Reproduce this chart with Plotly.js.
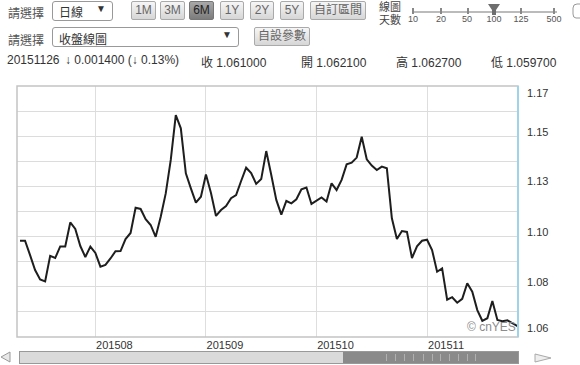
<!DOCTYPE html>
<html><head><meta charset="utf-8">
<script src="https://cdn.plot.ly/plotly-3.0.1.min.js"></script>
<style>
body{margin:0;width:580px;height:365px;overflow:hidden;background:#fff;font-family:"Liberation Sans",Arial,"Noto Sans CJK TC",sans-serif;color:#333;position:relative}
.a{position:absolute;white-space:nowrap}
.lbl{font-size:12px;color:#555}
.sel{border:1px solid #999;border-radius:3px;background:#fff;box-sizing:border-box}
.btn{position:absolute;box-sizing:border-box;border:1px solid #aaa;background:linear-gradient(#f6f6f6,#d6d6d6);color:#666;font-size:12px;text-align:center;border-radius:2px;height:19px;line-height:17px}
.on{background:linear-gradient(#a8a8a8,#7c7c7c);color:#222;border-color:#777}
.info{font-size:12px;color:#333;top:53px}
#chart{position:absolute;left:0;top:75px;width:580px;height:276px}
</style></head><body>
<div class="a lbl" style="left:8px;top:4px">請選擇</div>
<div class="a sel" style="left:52px;top:1px;width:61px;height:20px"></div>
<div class="a" style="left:59px;top:3px;font-size:12px;color:#333">日線</div>
<div class="a" style="left:96px;top:3px;font-size:10px;color:#333">▼</div>
<div class="btn" style="left:131px;top:1px;width:25px">1M</div>
<div class="btn" style="left:160px;top:1px;width:25px">3M</div>
<div class="btn on" style="left:189px;top:1px;width:25px">6M</div>
<div class="btn" style="left:220px;top:1px;width:24px">1Y</div>
<div class="btn" style="left:250px;top:1px;width:24px">2Y</div>
<div class="btn" style="left:280px;top:1px;width:24px">5Y</div>
<div class="btn" style="left:310px;top:1px;width:56px">自訂區間</div>
<div class="a" style="left:379px;top:1px;font-size:11px;line-height:12px;color:#444">線圖</div>
<div class="a" style="left:379px;top:14px;font-size:11px;line-height:12px;color:#444">天數</div>
<svg class="a" style="left:404px;top:0" width="176" height="28">
  <line x1="9" y1="12" x2="153" y2="12" stroke="#bbb" stroke-width="2"/>
  <g stroke="#888" stroke-width="2">
    <line x1="9" y1="8" x2="9" y2="14"/><line x1="37" y1="8" x2="37" y2="14"/>
    <line x1="64" y1="8" x2="64" y2="14"/><line x1="117" y1="8" x2="117" y2="14"/>
    <line x1="150" y1="8" x2="150" y2="14"/>
  </g>
  <path d="M84 4 L96 4 L92 10 L92 15 L88 15 L88 10 Z" fill="#6e6e6e"/>
  <g font-size="9" fill="#555" text-anchor="middle" font-family="Liberation Sans, Arial">
    <text x="9" y="22">10</text><text x="37" y="22">20</text><text x="63" y="22">50</text>
    <text x="90" y="22">100</text><text x="117" y="22">125</text><text x="150" y="22">500</text>
  </g>
  <path d="M169 8 Q169 4 173 4 L178 4 L178 18 L172 18 Q169 18 169 14 Z" fill="none" stroke="#999"/>
</svg>
<div class="a lbl" style="left:8px;top:31px">請選擇</div>
<div class="a sel" style="left:52px;top:27px;width:187px;height:20px"></div>
<div class="a" style="left:59px;top:30px;font-size:12px;color:#333">收盤線圖</div>
<div class="a" style="left:222px;top:29px;font-size:10px;color:#333">▼</div>
<div class="btn" style="left:254px;top:27px;width:56px">自設參數</div>
<div class="a info" style="left:7px">20151126</div>
<div class="a info" style="left:65px">↓ 0.001400 (↓ 0.13%)</div>
<div class="a info" style="left:201px">收 1.061000</div>
<div class="a info" style="left:301px">開 1.062100</div>
<div class="a info" style="left:396px">高 1.062700</div>
<div class="a info" style="left:491px">低 1.059700</div>
<div id="chart"></div>
<svg class="a" style="left:0;top:348px" width="580" height="17">
  <path d="M10 4 L1 9 L10 14 Z" fill="#e8e8e8" stroke="#999"/>
  <rect x="19.5" y="3.5" width="499" height="12" fill="#d0d0d0" stroke="#999"/>
  <rect x="20" y="4" width="323" height="11" fill="#dadada"/>
  <rect x="343" y="4" width="175" height="11" fill="#8a8a8a"/>
  <g stroke="#b0b0b0" stroke-width="1">
    <line x1="386.5" y1="6" x2="386.5" y2="13"/><line x1="395.5" y1="6" x2="395.5" y2="13"/>
    <line x1="404.5" y1="6" x2="404.5" y2="13"/><line x1="413.5" y1="6" x2="413.5" y2="13"/>
    <line x1="423.5" y1="6" x2="423.5" y2="13"/><line x1="432.5" y1="6" x2="432.5" y2="13"/>
    <line x1="440.5" y1="6" x2="440.5" y2="13"/><line x1="449.5" y1="6" x2="449.5" y2="13"/>
    <line x1="458.5" y1="6" x2="458.5" y2="13"/><line x1="467.5" y1="6" x2="467.5" y2="13"/>
    <line x1="475.5" y1="6" x2="475.5" y2="13"/>
  </g>
  <path d="M535 6 L551 10 L535 14 Z" fill="#eee" stroke="#aaa"/>
</svg>
<script>
// EUR/USD daily close, last 100 sessions to 2015-11-26
const closeValues = [
  1.1015,1.1015,1.0947,1.0876,1.0831,1.0822,1.0943,1.0933,1.0988,1.0988,
  1.1102,1.1071,1.0990,1.0938,1.0987,1.0957,1.0892,1.0900,1.0931,1.0965,
  1.0966,1.1023,1.1052,1.1172,1.1166,1.1118,1.1090,1.1034,1.1129,1.1240,
  1.1399,1.1612,1.1549,1.1335,1.1264,1.1196,1.1224,1.1330,1.1242,1.1133,
  1.1161,1.1180,1.1217,1.1232,1.1299,1.1362,1.1337,1.1285,1.1308,1.1441,
  1.1327,1.1209,1.1139,1.1204,1.1193,1.1212,1.1259,1.1268,1.1190,1.1204,
  1.1221,1.1201,1.1288,1.1256,1.1304,1.1378,1.1386,1.1410,1.1509,1.1402,
  1.1372,1.1351,1.1367,1.1359,1.1122,1.1023,1.1061,1.1057,1.0933,1.0989,
  1.1015,1.1020,1.0971,1.0868,1.0884,1.0735,1.0747,1.0721,1.0739,1.0813,
  1.0773,1.0686,1.0635,1.0647,1.0729,1.0639,1.0633,1.0637,1.0623,1.0610
];
const sessionIndex = closeValues.map((_, i) => i);
const monthTickIdx = [15, 37, 59, 81];
const monthTickText = ['201508', '201509', '201510', '201511'];
const yRange = [1.0558, 1.1750];
const yGridVals = [1.0558,1.06772,1.07964,1.09156,1.10348,1.1154,1.12732,1.13924,1.15116,1.16308,1.1750];
const yLabelPos = [1.0601, 1.0819, 1.1057, 1.1299, 1.1532, 1.1717];
const yLabelText = ['1.06', '1.08', '1.10', '1.13', '1.15', '1.17'];

const traces = [
  {x: sessionIndex, y: closeValues, type: 'scatter', mode: 'lines',
   line: {color: '#1e1e1e', width: 2}, hoverinfo: 'skip', showlegend: false},
  {x: sessionIndex, y: closeValues, type: 'scatter', mode: 'lines', yaxis: 'y2',
   line: {color: 'rgba(0,0,0,0)', width: 0}, hoverinfo: 'skip', showlegend: false}
];
const layout = {
  width: 580, height: 276,
  margin: {l: 17, r: 62, t: 11, b: 14},
  paper_bgcolor: '#fff', plot_bgcolor: '#fff',
  font: {family: 'Liberation Sans, Arial, sans-serif', size: 11, color: '#333'},
  showlegend: false,
  xaxis: {range: [-0.6, 99.1], tickmode: 'array', tickvals: monthTickIdx, ticktext: monthTickText,
          showgrid: true, gridcolor: '#dedede', gridwidth: 1, zeroline: false, showline: false,
          ticks: '', ticklabelshift: 19, ticklabelstandoff: 0, tickfont: {size: 11, color: '#333'}, fixedrange: true},
  yaxis: {range: yRange, tickmode: 'array', tickvals: yGridVals, showticklabels: false,
          showgrid: true, gridcolor: '#dcdcdc', gridwidth: 1, zeroline: false, showline: false, ticks: '', fixedrange: true},
  yaxis2: {range: yRange, overlaying: 'y', side: 'right', tickmode: 'array', tickvals: yLabelPos, ticktext: yLabelText,
           showgrid: false, zeroline: false, showline: false, ticks: '', ticklabelstandoff: 8,
           tickfont: {size: 11, color: '#333'}, fixedrange: true},
  shapes: [
    {type: 'rect', xref: 'paper', yref: 'paper', x0: 0, x1: 1, y0: 0, y1: 1, line: {color: '#c4c4c4', width: 1.5}},
    {type: 'line', xref: 'paper', yref: 'paper', x0: 1, x1: 1, y0: 0, y1: 1, line: {color: '#9fd3ea', width: 2}}
  ],
  annotations: [
    {text: '© cnYES', xref: 'paper', yref: 'paper', x: 1, y: 0, xanchor: 'right', yanchor: 'bottom',
     xshift: 0, yshift: 1, showarrow: false, font: {size: 12, color: '#8c8c8c'}}
  ]
};
Plotly.newPlot('chart', traces, layout, {staticPlot: true, displayModeBar: false});
</script>
</body></html>
